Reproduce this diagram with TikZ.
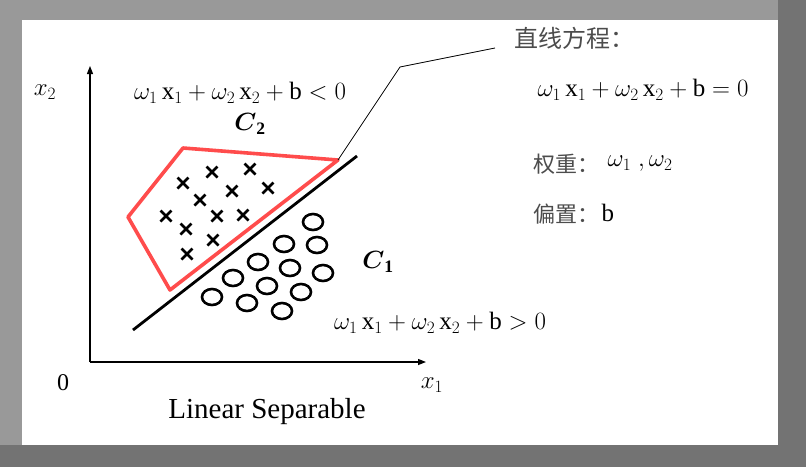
\documentclass[tikz,border=0pt]{standalone}
\usepackage{amsmath}
\usepackage{amssymb}
\usepackage{fontspec}
\setmainfont{Liberation Serif}
\newfontfamily\cjk{Noto Sans CJK SC}
\usetikzlibrary{arrows.meta, positioning}

\newcommand{\eqsize}{\fontsize{25}{27}\selectfont}

\begin{document}
\begin{tikzpicture}[x=1pt, y=-1pt,
  axis/.style={-{Triangle[length=8pt, width=6pt]}, line width=1.3pt},
  eqn/.style={font=\eqsize, inner sep=0pt},
  lbl/.style={font=\fontsize{24}{26}\selectfont, inner sep=0pt},
  cn/.style={font=\fontsize{22}{24}\selectfont\cjk, text=black!70, inner sep=0pt},
  cross/.style={line width=2.8pt},
  ring/.style={line width=2.6pt},
  hull/.style={draw=red!70!white, line width=3.6pt, line join=round},
  sep/.style={line width=2.8pt},
  pointer/.style={line width=0.8pt}]
\useasboundingbox (0,0) rectangle (806,467);
% frame
\fill[black!55] (0,0) rectangle (806,467);
\fill[black!40] (0,0) rectangle (778,445);
\fill[white] (22,20) rectangle (778,445);

% axes
\coordinate (o) at (90,362);
\coordinate (ytop) at (90,66);
\coordinate (xend) at (426,362);
\draw[axis] (o) -- (ytop);
\draw[axis] (o) -- (xend);
\node[lbl] (xtwo) at (45,92) {$x_2$};
\node[lbl] (xone) at (432,385) {$x_1$};
\node[lbl] (zero) at (63,383) {0};
\node[font=\fontsize{29}{32}\selectfont, inner sep=0pt] (title) at (267,412) {Linear Separable};

% class C2 hull
\coordinate (h1) at (128,217);
\coordinate (h2) at (183,148);
\coordinate (h3) at (338,160);
\coordinate (h4) at (170,290);
\draw[hull] (h1) -- (h2) -- (h3) -- (h4) -- cycle;

% crosses
\foreach \px/\py in {183/183, 212/172, 250/169, 232/191, 268/188, 200/200,
                     166/216, 217/216, 243/215, 186/229, 213/240, 187/254}
  \draw[cross] (\px-5.5,\py-5.5) -- (\px+5.5,\py+5.5)
               (\px-5.5,\py+5.5) -- (\px+5.5,\py-5.5);

% circles
\foreach \px/\py in {313/222, 284/244, 317/245, 258/262, 290/268, 323/273,
                     233/278, 267/286, 301/292, 212/297, 247/303, 282/311}
  \draw[ring] (\px,\py) ellipse [x radius=10, y radius=8];

% separating line
\coordinate (s1) at (133,330);
\coordinate (s2) at (357,156);
\draw[sep] (s1) -- (s2);

% pointer to the equation label
\coordinate (bend) at (400,67);
\coordinate (tip) at (495,48);
\draw[pointer] (h3) -- (bend) -- (tip);

% texts
\node[eqn] (neg) at (240,93) {$\omega_1\,\mathrm{x}_1+\omega_2\,\mathrm{x}_2+\mathrm{b}<0$};
\node[eqn] (ctwo) at (250,124) {$\boldsymbol{C}_{\mathbf{2}}$};
\node[eqn] (cone) at (378,262) {$\boldsymbol{C}_{\mathbf{1}}$};
\node[eqn] (pos) at (440,323) {$\omega_1\,\mathrm{x}_1+\omega_2\,\mathrm{x}_2+\mathrm{b}>0$};
\node[cn, font=\fontsize{24}{26}\selectfont\cjk] (head) at (574,38) {直线方程：};
\node[eqn] (line) at (643,90) {$\omega_1\,\mathrm{x}_1+\omega_2\,\mathrm{x}_2+\mathrm{b}=0$};
\node[cn, anchor=west] (weight) at (533,164) {权重：};
\node[eqn, right=8pt of weight] (wval) {$\omega_1\;,\omega_2$};
\node[cn, anchor=west] (bias) at (533,214) {偏置：};
\node[eqn, right=2pt of bias, yshift=1pt] (bval) {b};
\end{tikzpicture}
\end{document}
